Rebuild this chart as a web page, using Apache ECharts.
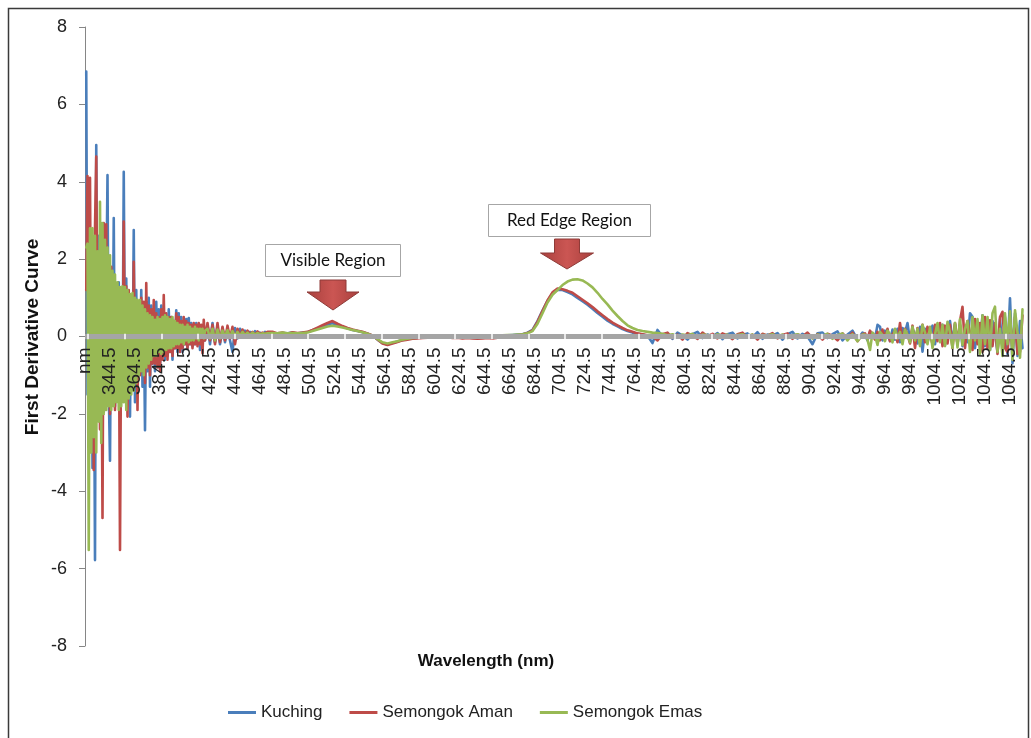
<!DOCTYPE html>
<html>
<head>
<meta charset="utf-8">
<title>First Derivative Curve</title>
<script src="https://cdn.jsdelivr.net/npm/echarts@6/dist/echarts.min.js"></script>
<style>
  html, body { margin: 0; padding: 0; background: #fff; }
  #chart { width: 1031px; height: 738px; }
</style>
</head>
<body>
<div id="chart"></div>
<script>
// Wavelength sampling (nm): [start, step, count] for each stretch of the spectrum
const wavelengthSegments = [
  [325.5, 1, 96],
  [422.5, 2, 25],
  [474.5, 4, 119],
  [948.5, 2, 64]
];

// First-derivative readings per site, one value per sampled wavelength
const kuching = [
  // 325.5 – 420.5
  6.85, -1.5, 3.6, -0.8, 2.4, -3.4, 1.2, -5.78, 4.95, -1.2,
  2.6, -2.2, 1.8, -1.6, 2.2, -1.9, 1.0, 4.17, -1.4, -3.21,
  1.6, -1.2, 3.06, -1.8, 1.1, -1.5, 1.4, -2.0, 0.9, -1.3,
  4.26, -1.0, 1.5, -1.6, 0.8, -2.07, 1.0, -1.2, 2.75, -1.7,
  1.2, -1.0, 0.9, -0.8, 1.2, -1.3, 0.7, -2.42, 0.9, -0.9,
  1.0, -1.3, 0.8, -0.7, 0.6, -0.9, 0.9, -0.6, 0.7, -0.8,
  0.8, -0.5, 0.6, -0.6, 0.5, -0.5, 0.7, -0.4, 0.5, -0.6,
  0.4, -0.3, 0.68, -0.4, 0.6, -0.3, 0.5, -0.4, 0.4, -0.2,
  0.45, -0.3, 0.48, -0.2, 0.35, -0.25, 0.3, -0.2, 0.35, -0.15,
  0.3, -0.35, 0.25, -0.1, 0.3, -0.1,
  // 422.5 – 470.5
  0.3, -0.2, 0.35, -0.15, 0.25, -0.2, 0.22, -0.15, 0.2, -0.1,
  -0.4, 0.22, -0.05, 0.2, 0.0, 0.15, 0.02, 0.12, 0.03, 0.14,
  0.05, 0.1, 0.04, 0.12, 0.08,
  // 474.5 – 946.5
  0.1, 0.06, 0.09, 0.08, 0.1, 0.07, 0.1,
  0.11, 0.16, 0.21, 0.26, 0.31, 0.34, 0.3, 0.25, 0.21, 0.17, 0.14, 0.11, 0.07, 0.02, -0.08, -0.17, -0.21, -0.17,
  -0.13, -0.09, -0.06, -0.05, -0.03, -0.02, -0.01, 0.0, 0.01, 0.0, 0.02, 0.01, 0.03, 0.02, 0.02, 0.01, 0.03, 0.02, 0.01, 0.02, 0.03, 0.02, 0.03, 0.04, 0.05, 0.06,
  0.1, 0.17, 0.4, 0.67, 0.92, 1.12, 1.21, 1.2, 1.15, 1.09, 1.0, 0.91, 0.82, 0.72, 0.61, 0.51, 0.41, 0.33, 0.26, 0.19, 0.14, 0.1, 0.07, 0.05,
  0.02, -0.17, 0.17, 0.0, 0.08, -0.06, 0.1, 0.02, -0.08, 0.06,
  0.12, -0.04, 0.05, 0.0, 0.09, -0.07, 0.06, 0.1, -0.05, 0.04,
  0.08, -0.02, 0.11, -0.06, 0.05, 0.02, 0.09, -0.08, 0.06, 0.12,
  -0.05, 0.07, 0.0, -0.2, 0.08, 0.1, -0.04, 0.06, 0.13, -0.1,
  0.05, 0.15, -0.08, 0.1,
  // 948.5 – 1074.5
  0.05, -0.1, 0.12, 0.02, -0.05, 0.3, 0.25, -0.1,
  0.15, 0.05, -0.12, 0.18, -0.08, 0.2, -0.15, 0.22,
  0.1, 0.35, -0.12, 0.2, 0.05, -0.18, 0.25, -0.39,
  0.2, -0.15, 0.1, 0.28, -0.2, 0.22, -0.1, 0.3,
  -0.22, 0.25, 0.4, -0.15, 0.32, -0.2, 0.3, -0.25,
  0.2, -0.15, 0.6, 0.51, -0.3, 0.35, -0.2, 0.55,
  -0.25, 0.3, -0.35, 0.4, 0.1, -0.4, 0.45, -0.3,
  0.5, -0.45, 0.99, -0.69, 0.6, -0.5, 0.4, -0.3
];

const semongokAman = [
  // 325.5 – 420.5
  1.2, 4.15, -0.6, 4.1, -1.8, 1.5, -3.45, 2.8, 4.65, -1.0,
  2.0, -2.4, 1.2, -4.69, 2.93, -0.8, 2.9, -1.6, 1.5, -2.0,
  1.8, -1.4, 1.3, -1.9, 1.1, -1.2, 1.2, -5.52, 0.9, -1.4,
  2.97, -1.2, 1.3, -2.07, 1.2, -1.0, 1.0, -1.3, 1.93, -1.0,
  0.9, -1.9, 0.8, -1.0, 1.0, -0.9, 0.9, -1.2, 1.38, -0.8,
  0.8, -1.0, 0.7, -0.7, 0.94, -0.7, 0.6, -0.8, 0.5, -0.9,
  0.7, -0.6, 1.07, -0.5, 0.6, -0.6, 0.5, -0.4, 0.5, -0.5,
  0.4, -0.3, 0.6, -0.3, 0.5, -0.4, 0.4, -0.3, 0.5, -0.2,
  0.4, -0.3, 0.35, -0.2, 0.3, -0.3, 0.35, -0.2, 0.3, -0.25,
  0.35, -0.2, 0.3, -0.43, 0.43, -0.1,
  // 422.5 – 470.5
  0.35, -0.1, 0.3, -0.2, 0.35, -0.15, 0.25, -0.1, 0.28, -0.05,
  0.25, -0.2, 0.2, 0.0, 0.18, 0.02, 0.15, 0.05, 0.12, 0.04,
  0.13, 0.06, 0.1, 0.08, 0.12,
  // 474.5 – 946.5
  0.12, 0.08, 0.1, 0.07, 0.11, 0.09, 0.1,
  0.12, 0.17, 0.23, 0.29, 0.35, 0.4, 0.33, 0.27, 0.22, 0.18, 0.15, 0.12, 0.08, 0.03, -0.08, -0.18, -0.22, -0.18,
  -0.14, -0.1, -0.08, -0.06, -0.05, -0.04, -0.03, -0.03, -0.02, -0.03, -0.02, -0.04, -0.03, -0.05, -0.04, -0.05, -0.06, -0.05, -0.04, -0.05, -0.03, -0.02, 0.0, 0.01, 0.03, 0.05,
  0.09, 0.16, 0.38, 0.66, 0.93, 1.14, 1.24, 1.22, 1.18, 1.13, 1.04, 0.95, 0.86, 0.76, 0.65, 0.55, 0.45, 0.36, 0.29, 0.22, 0.16, 0.12, 0.08, 0.06,
  0.03, 0.0, -0.1, 0.06, 0.1, -0.04, 0.05, -0.08, 0.09, 0.02,
  -0.06, 0.1, 0.0, 0.07, -0.05, 0.08, 0.03, -0.07, 0.06, 0.1,
  -0.03, 0.05, -0.08, 0.07, 0.02, 0.09, -0.05, 0.04, 0.08, -0.06,
  0.05, 0.0, 0.1, -0.04, 0.06, -0.08, 0.07, 0.02, -0.1, 0.08,
  -0.05, 0.1, -0.12, 0.06,
  // 948.5 – 1074.5
  0.08, -0.05, 0.15, 0.02, -0.08, 0.12, -0.1, 0.18,
  -0.05, 0.2, -0.12, 0.05, 0.15, -0.15, 0.35, -0.12,
  0.2, 0.05, -0.18, 0.28, -0.3, 0.22, -0.1, 0.3,
  -0.15, 0.25, 0.05, -0.2, 0.3, -0.12, 0.35, -0.25,
  0.28, -0.18, 0.3, -0.3, 0.35, -0.2, 0.4, 0.77,
  -0.3, 0.4, 0.1, -0.35, 0.45, -0.2, 0.35, -0.4,
  0.5, -0.3, 0.42, -0.25, 0.35, -0.45, 0.5, 0.64,
  -0.3, -0.4, 0.45, -0.35, 0.5, -0.45, -0.4, 0.55
];

const semongokEmas = [
  // 325.5 – 420.5
  2.3, 2.4, -5.52, 2.8, -3.0, 2.8, -2.6, 2.6, -3.0, 2.2,
  -2.2, 3.48, -2.75, 2.93, -2.0, 2.5, -1.9, 2.3, -1.8, 2.1,
  -1.9, 1.7, -1.8, 1.6, -1.7, 1.4, -1.9, 1.28, -1.8, 1.3,
  -1.7, 1.28, -1.9, 1.2, -1.6, 1.1, -1.5, 1.12, -1.4, 1.0,
  -1.2, 0.95, -1.0, 0.94, -0.9, 0.8, -1.0, 0.7, -0.8, 0.6,
  -0.7, 0.55, -0.6, 0.5, -0.5, 0.43, -0.5, 0.5, -0.4, 0.45,
  -0.45, 0.5, -0.4, 0.55, -0.35, 0.5, -0.3, 0.45, -0.3, 0.5,
  -0.25, 0.4, -0.2, 0.35, -0.2, 0.3, -0.15, 0.3, -0.2, 0.25,
  -0.1, 0.3, -0.15, 0.25, -0.1, 0.2, -0.1, 0.25, -0.05, 0.2,
  -0.1, 0.2, 0.0, 0.2, -0.05, 0.15,
  // 422.5 – 470.5
  0.2, -0.05, 0.2, -0.1, 0.18, -0.05, 0.15, 0.0, 0.16, -0.02,
  0.14, 0.0, 0.12, 0.02, 0.12, 0.03, 0.1, 0.04, 0.1, 0.05,
  0.09, 0.06, 0.08, 0.07, 0.08,
  // 474.5 – 946.5
  0.09, 0.08, 0.1, 0.08, 0.09, 0.08, 0.09,
  0.1, 0.14, 0.18, 0.22, 0.26, 0.28, 0.26, 0.23, 0.2, 0.17, 0.14, 0.11, 0.07, 0.02, -0.07, -0.15, -0.18, -0.15,
  -0.12, -0.08, -0.06, -0.04, -0.03, -0.02, -0.01, 0.0, 0.01, 0.01, 0.02, 0.01, 0.02, 0.03, 0.02, 0.02, 0.03, 0.02, 0.03, 0.03, 0.02, 0.03, 0.04, 0.04, 0.05, 0.06,
  0.08, 0.14, 0.33, 0.6, 0.88, 1.08, 1.2, 1.33, 1.42, 1.47, 1.48, 1.45, 1.37, 1.27, 1.13, 0.97, 0.83, 0.67, 0.53, 0.4, 0.29, 0.22, 0.17, 0.14,
  0.12, 0.1, 0.09, 0.07, 0.03, 0.06, 0.0, 0.05, 0.03, 0.07,
  -0.02, 0.05, 0.04, 0.0, 0.06, 0.02, 0.05, -0.03, 0.04, 0.06,
  0.01, 0.05, -0.02, 0.04, 0.03, 0.06, 0.0, 0.05, -0.04, 0.03,
  0.06, 0.01, 0.04, -0.05, 0.05, 0.02, 0.07, -0.06, 0.04, 0.08,
  -0.1, 0.06, -0.12, 0.05,
  // 948.5 – 1074.5
  0.05, -0.08, -0.35, 0.1, 0.02, -0.22, 0.12, 0.04,
  -0.12, 0.15, 0.05, -0.15, 0.2, -0.05, 0.12, -0.2,
  0.18, 0.05, -0.15, 0.25, -0.1, 0.2, -0.25, 0.3,
  0.1, -0.2, 0.25, -0.3, 0.05, 0.35, -0.15, 0.3,
  -0.25, 0.38, 0.1, -0.3, 0.35, -0.28, 0.45, -0.22,
  0.2, 0.4, -0.4, 0.5, -0.1, 0.45, -0.45, 0.55,
  -0.2, 0.5, -0.35, 0.6, 0.77, -0.4, 0.2, -0.5,
  0.6, -0.2, 0.65, -0.6, 0.68, 0.1, -0.55, 0.7
];

const seriesNames = ['Kuching', 'Semongok Aman', 'Semongok Emas'];
const seriesColors = ['#4A7EBB', '#BE4B48', '#98B954'];

// Category layout of the horizontal axis: slot 0 carries the "nm" header,
// slot k (k >= 1) is wavelength 324.5 + k; one label every 20 slots.
const firstLabel = 'nm';
const slotOrigin = 324.5;
const slotCount = 750;
const labelEvery = 20;

// Vertical scale
const yMin = -8, yMax = 8, yStep = 2;

// Plot box (px)
const GRID = { left: 85, right: 8.5, top: 27, bottom: 92 };
const CHART_H = 738;
const plotHeight = CHART_H - GRID.top - GRID.bottom;
// shift the label axis up from the plot bottom to the y = 0 line
const zeroShift = plotHeight * (0 - yMin) / (yMax - yMin);

// Build the wavelength grid
const wavelengths = [];
wavelengthSegments.forEach(([start, step, count]) => {
  for (let i = 0; i < count; i++) wavelengths.push(+(start + i * step).toFixed(1));
});
[kuching, semongokAman, semongokEmas].forEach((arr, k) => {
  if (arr.length !== wavelengths.length) {
    throw new Error(seriesNames[k] + ': ' + arr.length + ' values for ' + wavelengths.length + ' wavelengths');
  }
});

const toPoints = values => wavelengths.map((w, i) => [w - slotOrigin, values[i]]);

// Light separators across the thick horizontal axis band
const bandTickStart = 2.4;
const bandTickStep = 29.36;
const bandTicks = [];
for (let x = bandTickStart; x < slotCount; x += bandTickStep) bandTicks.push(x);

const AXIS_FONT = '"Liberation Sans", Arial, sans-serif';
const BOX_FONT = 'Lato, "Open Sans", sans-serif';
const TEXT_COLOR = '#222';

const chart = echarts.init(document.getElementById('chart'), null, { renderer: 'canvas' });

const lineSeries = [kuching, semongokAman, semongokEmas].map((vals, k) => ({
  name: seriesNames[k],
  type: 'line',
  data: toPoints(vals),
  showSymbol: false,
  symbol: 'none',
  sampling: null,
  z: 2,
  color: seriesColors[k],
  lineStyle: { color: seriesColors[k], width: 2.6, join: 'round', cap: 'round' },
  emphasis: { disabled: true },
  silent: true
}));

// Down arrow polygon: shaft from top, head below, tip at the bottom
function downArrow(cx, top, shaftW, shaftH, headW, headH) {
  return [
    [cx - shaftW / 2, top], [cx + shaftW / 2, top],
    [cx + shaftW / 2, top + shaftH], [cx + headW / 2, top + shaftH],
    [cx, top + shaftH + headH],
    [cx - headW / 2, top + shaftH], [cx - shaftW / 2, top + shaftH]
  ];
}
const arrowFill = {
  type: 'linear', x: 0, y: 0, x2: 1, y2: 0,
  colorStops: [
    { offset: 0, color: '#A8403D' },
    { offset: 0.5, color: '#CB5653' },
    { offset: 1, color: '#A8403D' }
  ]
};

// Thick grey band along y = 0 plus its light separators
const bandLines = [[{ coord: [0, 0] }, { coord: [slotCount, 0] }]].concat(
  bandTicks.map(x => [
    { coord: [x, 0.07], lineStyle: { color: '#ffffff', width: 1.5 } },
    { coord: [x, -0.07] }
  ])
);

const option = {
  animation: false,
  backgroundColor: '#ffffff',
  textStyle: { fontFamily: AXIS_FONT },
  grid: Object.assign({ containLabel: false }, GRID),
  legend: {
    data: seriesNames,
    left: 228,
    top: 704,
    padding: 0,
    icon: 'rect',
    itemWidth: 28,
    itemHeight: 3,
    itemGap: 27,
    textStyle: { fontSize: 17, color: TEXT_COLOR, fontFamily: AXIS_FONT },
    selectedMode: false
  },
  xAxis: {
    type: 'value', min: 0, max: slotCount, interval: labelEvery,
    position: 'bottom',
    offset: -zeroShift,
    z: 5,
    axisLine: { show: false, onZero: false },
    axisTick: { show: false },
    splitLine: { show: false },
    axisLabel: {
      show: true, rotate: 90, margin: 11, fontSize: 19, color: TEXT_COLOR,
      fontFamily: AXIS_FONT, showMaxLabel: false, showMinLabel: true,
      formatter: v => (v === 0 ? firstLabel : (v + slotOrigin).toFixed(1))
    }
  },
  yAxis: {
    type: 'value', min: yMin, max: yMax, interval: yStep,
    axisLine: { show: true, onZero: false, lineStyle: { color: '#868686', width: 1 } },
    axisTick: { show: true, length: 6, lineStyle: { color: '#868686' } },
    splitLine: { show: false },
    axisLabel: { fontSize: 18, color: TEXT_COLOR, margin: 18, fontFamily: AXIS_FONT }
  },
  series: [
    {
      name: 'axisBand',
      type: 'line',
      data: [],
      z: 1,
      silent: true,
      markLine: {
        silent: true,
        symbol: 'none',
        animation: false,
        label: { show: false },
        emphasis: { disabled: true },
        lineStyle: { color: '#A5A5A5', width: 5, type: 'solid' },
        data: bandLines
      }
    }
  ].concat(lineSeries),
  graphic: [
    // outer frame
    { type: 'rect', z: 100, shape: { x: 8.5, y: 8.5, width: 1020, height: 760 },
      style: { fill: 'none', stroke: '#3a3a3a', lineWidth: 1.5 }, silent: true },
    // axis titles
    { type: 'text', z: 100, x: 33, y: 337, rotation: Math.PI / 2,
      style: { text: 'First Derivative Curve', font: 'bold 19px ' + AXIS_FONT, fill: '#111',
               align: 'center', verticalAlign: 'middle' } },
    { type: 'text', z: 100, x: 486, y: 661,
      style: { text: 'Wavelength (nm)', font: 'bold 17px ' + AXIS_FONT, fill: '#111',
               align: 'center', verticalAlign: 'middle' } },
    // "Visible Region" callout
    { type: 'rect', z: 100, shape: { x: 265.5, y: 244.5, width: 135, height: 32 },
      style: { fill: '#fff', stroke: '#A6A6A6', lineWidth: 1 } },
    { type: 'text', z: 101, x: 333, y: 261,
      style: { text: 'Visible Region', font: '17px ' + BOX_FONT, fill: '#111',
               align: 'center', verticalAlign: 'middle' } },
    { type: 'polygon', z: 100, shape: { points: downArrow(333, 280, 26, 12, 52, 18) },
      style: { fill: arrowFill, stroke: '#8E3B38', lineWidth: 1 } },
    // "Red Edge Region" callout
    { type: 'rect', z: 100, shape: { x: 488.5, y: 204.5, width: 162, height: 32 },
      style: { fill: '#fff', stroke: '#A6A6A6', lineWidth: 1 } },
    { type: 'text', z: 101, x: 569.5, y: 221,
      style: { text: 'Red Edge Region', font: '17px ' + BOX_FONT, fill: '#111',
               align: 'center', verticalAlign: 'middle' } },
    { type: 'polygon', z: 100, shape: { points: downArrow(567, 239, 25, 14, 53, 16) },
      style: { fill: arrowFill, stroke: '#8E3B38', lineWidth: 1 } }
  ]
};

chart.setOption(option);
</script>
</body>
</html>
